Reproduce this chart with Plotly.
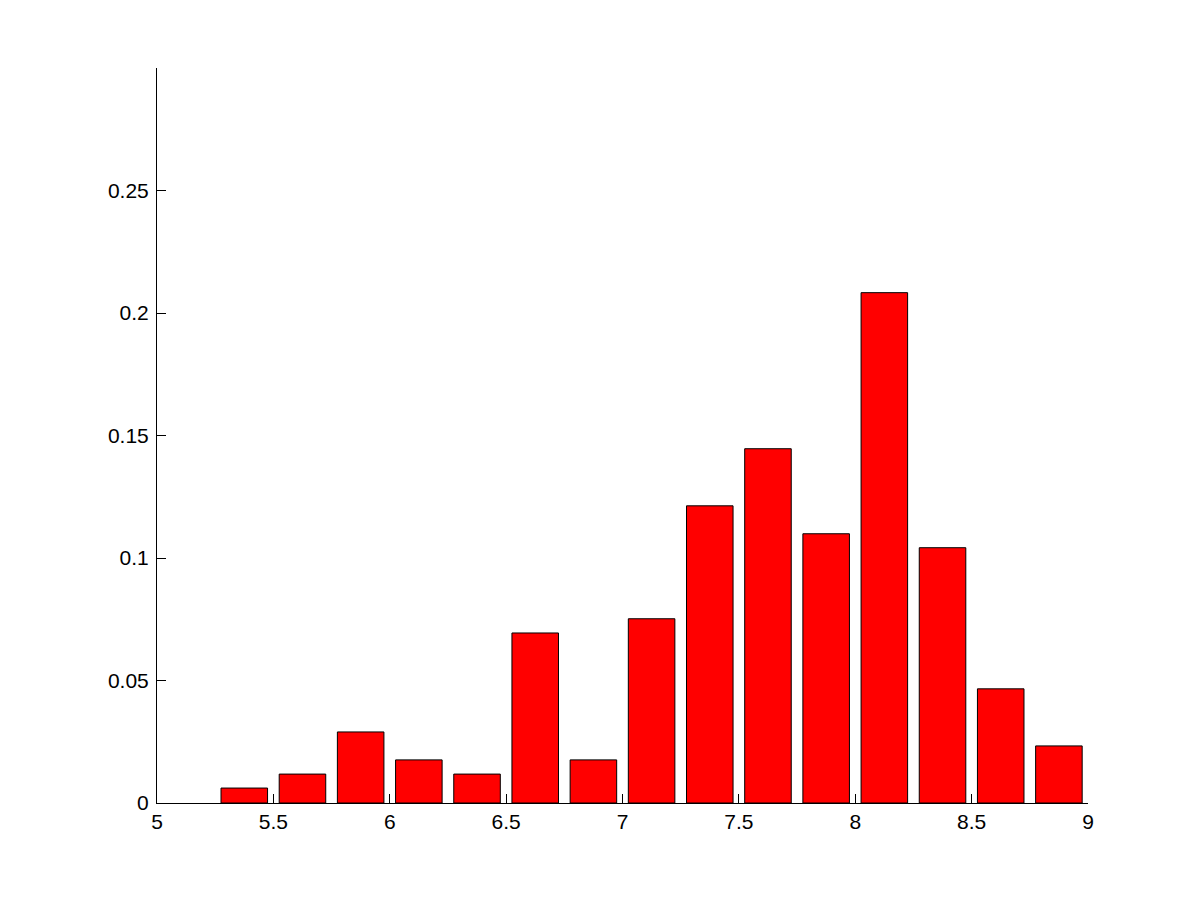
import plotly.graph_objects as go

bin_centers = [5.375, 5.625, 5.875, 6.125, 6.375, 6.625, 6.875, 7.125,
               7.375, 7.625, 7.875, 8.125, 8.375, 8.625, 8.875]
frequencies = [0.0061, 0.0118, 0.0290, 0.0176, 0.0118, 0.0694, 0.0176, 0.0752,
               0.1213, 0.1446, 0.1099, 0.2083, 0.1042, 0.0466, 0.0233]
x_ticks = [5, 5.5, 6, 6.5, 7, 7.5, 8, 8.5, 9]
x_tick_labels = ["5", "5.5", "6", "6.5", "7", "7.5", "8", "8.5", "9"]
y_ticks = [0, 0.05, 0.1, 0.15, 0.2, 0.25]
y_tick_labels = ["0", "0.05", "0.1", "0.15", "0.2", "0.25"]

fig = go.Figure()
fig.add_trace(go.Bar(
    x=bin_centers, y=frequencies, width=0.2,
    marker=dict(color="#ff0000", line=dict(color="black", width=1)),
    hoverinfo="x+y",
))

font = dict(family="Liberation Sans, Arial, sans-serif", size=21, color="black")
fig.update_layout(
    width=1201, height=901,
    margin=dict(l=149, r=121, t=60, b=106, pad=0),
    paper_bgcolor="white", plot_bgcolor="white",
    showlegend=False, font=font,
    xaxis=dict(range=[5, 9], tickvals=x_ticks, ticktext=x_tick_labels,
               ticks="inside", ticklen=9, tickwidth=1, tickcolor="black",
               showline=True, linecolor="black", linewidth=1, mirror=False,
               showgrid=False, zeroline=False, tickfont=font,
               ticklabelstandoff=0),
    yaxis=dict(range=[0, 0.3], tickvals=y_ticks, ticktext=y_tick_labels,
               ticks="inside", ticklen=9, tickwidth=1, tickcolor="black",
               showline=True, linecolor="black", linewidth=1, mirror=False,
               showgrid=False, zeroline=False, tickfont=font,
               ticklabelstandoff=3),
)

fig.write_html("out.html")
